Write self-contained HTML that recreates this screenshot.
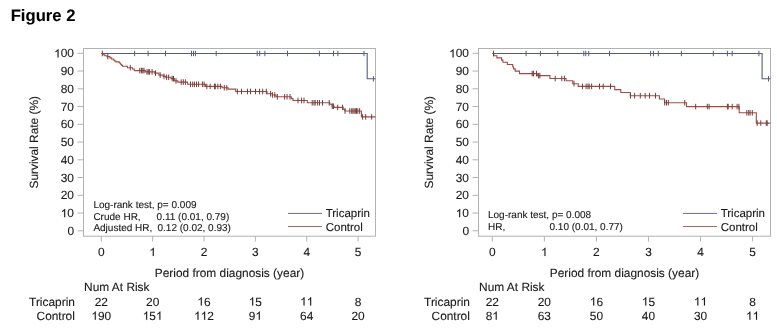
<!DOCTYPE html>
<html><head><meta charset="utf-8"><style>
html,body{margin:0;padding:0;background:#fff;width:777px;height:329px;overflow:hidden}
svg{display:block;will-change:transform;font-family:"Liberation Sans", sans-serif;fill:#1a1a1a}
text{stroke:#1a1a1a;stroke-width:0.12px;text-rendering:geometricPrecision}
.g1{fill:#1a1a1a;stroke:#1a1a1a;stroke-width:21px}
</style></head><body>
<svg width="777" height="329" viewBox="0 0 777 329">
<text x="10.7" y="21.2" font-size="16.65" font-weight="bold" fill="#000">Figure 2</text>
<rect x="83.5" y="48.5" width="292" height="187.7" fill="none" stroke="#b2b2b2" stroke-width="1"/>
<line x1="77.5" y1="230.8" x2="83.5" y2="230.8" stroke="#b2b2b2" stroke-width="1"/>
<text x="67.38" y="234.9" font-size="11.9">0</text>
<line x1="77.5" y1="213.05" x2="83.5" y2="213.05" stroke="#b2b2b2" stroke-width="1"/>
<text x="60.76" y="217.15" font-size="11.9"> 0</text><path class="g1" transform="translate(60.76,217.15) scale(0.005811,-0.005811)" d="M763 0H583V1098Q518 1038 412.5 979T223 890V1057Q375 1124 489 1221T650 1409H763Z"/>
<line x1="77.5" y1="195.3" x2="83.5" y2="195.3" stroke="#b2b2b2" stroke-width="1"/>
<text x="60.76" y="199.4" font-size="11.9">20</text>
<line x1="77.5" y1="177.55" x2="83.5" y2="177.55" stroke="#b2b2b2" stroke-width="1"/>
<text x="60.76" y="181.65" font-size="11.9">30</text>
<line x1="77.5" y1="159.8" x2="83.5" y2="159.8" stroke="#b2b2b2" stroke-width="1"/>
<text x="60.76" y="163.9" font-size="11.9">40</text>
<line x1="77.5" y1="142.05" x2="83.5" y2="142.05" stroke="#b2b2b2" stroke-width="1"/>
<text x="60.76" y="146.15" font-size="11.9">50</text>
<line x1="77.5" y1="124.3" x2="83.5" y2="124.3" stroke="#b2b2b2" stroke-width="1"/>
<text x="60.76" y="128.4" font-size="11.9">60</text>
<line x1="77.5" y1="106.55" x2="83.5" y2="106.55" stroke="#b2b2b2" stroke-width="1"/>
<text x="60.76" y="110.65" font-size="11.9">70</text>
<line x1="77.5" y1="88.8" x2="83.5" y2="88.8" stroke="#b2b2b2" stroke-width="1"/>
<text x="60.76" y="92.9" font-size="11.9">80</text>
<line x1="77.5" y1="71.05" x2="83.5" y2="71.05" stroke="#b2b2b2" stroke-width="1"/>
<text x="60.76" y="75.15" font-size="11.9">90</text>
<line x1="77.5" y1="53.3" x2="83.5" y2="53.3" stroke="#b2b2b2" stroke-width="1"/>
<text x="54.15" y="57.4" font-size="11.9"> 00</text><path class="g1" transform="translate(54.15,57.4) scale(0.005811,-0.005811)" d="M763 0H583V1098Q518 1038 412.5 979T223 890V1057Q375 1124 489 1221T650 1409H763Z"/>
<line x1="101.3" y1="236.2" x2="101.3" y2="241.5" stroke="#b2b2b2" stroke-width="1"/>
<text x="97.99" y="256" font-size="11.9">0</text>
<line x1="152.66" y1="236.2" x2="152.66" y2="241.5" stroke="#b2b2b2" stroke-width="1"/>
<text x="149.35" y="256" font-size="11.9"> </text><path class="g1" transform="translate(149.35,256) scale(0.005811,-0.005811)" d="M763 0H583V1098Q518 1038 412.5 979T223 890V1057Q375 1124 489 1221T650 1409H763Z"/>
<line x1="204.02" y1="236.2" x2="204.02" y2="241.5" stroke="#b2b2b2" stroke-width="1"/>
<text x="200.71" y="256" font-size="11.9">2</text>
<line x1="255.38" y1="236.2" x2="255.38" y2="241.5" stroke="#b2b2b2" stroke-width="1"/>
<text x="252.07" y="256" font-size="11.9">3</text>
<line x1="306.74" y1="236.2" x2="306.74" y2="241.5" stroke="#b2b2b2" stroke-width="1"/>
<text x="303.43" y="256" font-size="11.9">4</text>
<line x1="358.1" y1="236.2" x2="358.1" y2="241.5" stroke="#b2b2b2" stroke-width="1"/>
<text x="354.79" y="256" font-size="11.9">5</text>
<text x="229.5" y="277.1" text-anchor="middle" font-size="11.9">Period from diagnosis (year)</text>
<text transform="translate(37.7,142.3) rotate(-90)" x="0" y="0" text-anchor="middle" font-size="11.9">Survival Rate (%)</text>
<path d="M101.3 53.5 H367.2 V78.8 H375.5" fill="none" stroke="#575d7a" stroke-width="1.1"/>
<line x1="134.6" y1="50.8" x2="134.6" y2="56.2" stroke="#575d7a" stroke-width="1"/>
<line x1="148.1" y1="50.8" x2="148.1" y2="56.2" stroke="#575d7a" stroke-width="1"/>
<line x1="165.5" y1="50.8" x2="165.5" y2="56.2" stroke="#575d7a" stroke-width="1"/>
<line x1="191.5" y1="50.8" x2="191.5" y2="56.2" stroke="#575d7a" stroke-width="1"/>
<line x1="193.5" y1="50.8" x2="193.5" y2="56.2" stroke="#575d7a" stroke-width="1"/>
<line x1="195.4" y1="50.8" x2="195.4" y2="56.2" stroke="#575d7a" stroke-width="1"/>
<line x1="216.2" y1="50.8" x2="216.2" y2="56.2" stroke="#575d7a" stroke-width="1"/>
<line x1="257.2" y1="50.8" x2="257.2" y2="56.2" stroke="#575d7a" stroke-width="1"/>
<line x1="259.7" y1="50.8" x2="259.7" y2="56.2" stroke="#575d7a" stroke-width="1"/>
<line x1="264.9" y1="50.8" x2="264.9" y2="56.2" stroke="#575d7a" stroke-width="1"/>
<line x1="287.5" y1="50.8" x2="287.5" y2="56.2" stroke="#575d7a" stroke-width="1"/>
<line x1="319.4" y1="50.8" x2="319.4" y2="56.2" stroke="#575d7a" stroke-width="1"/>
<line x1="333.5" y1="50.8" x2="333.5" y2="56.2" stroke="#575d7a" stroke-width="1"/>
<line x1="337.9" y1="50.8" x2="337.9" y2="56.2" stroke="#575d7a" stroke-width="1"/>
<line x1="364" y1="50.8" x2="364" y2="56.2" stroke="#575d7a" stroke-width="1"/>
<line x1="373.4" y1="76.1" x2="373.4" y2="81.5" stroke="#575d7a" stroke-width="1"/>
<path d="M101.3 53.5 H103.1 V54.7 H104.8 V55.7 H107 V56.6 H109.9 V57.9 H111.5 V59 H113.3 V60 H114.6 V61 H115.9 V61.9 H119.2 V63 H120.4 V64.2 H121.5 V65.2 H122.5 V66.2 H127.4 V67.7 H132.5 V69 H134.3 V70.6 H145.3 V71.9 H154.7 V73.1 H158.9 V75.1 H163.2 V76.4 H165.7 V77.3 H171 V78.6 H174.4 V80.9 H177.8 V82.1 H187.6 V84.3 H205.5 V86.4 H222.1 V87.7 H228.1 V89.1 H235.7 V91.5 H267 V93.7 H272.4 V95 H276 V96.8 H291.3 V98.6 H293 V100.5 H307.3 V102.8 H329.8 V104.3 H332.2 V106.2 H334 V107.4 H343.2 V109.2 H345 V111 H361.4 V116.9 H375.5" fill="none" stroke="#a04c46" stroke-width="1.1"/>
<line x1="102.3" y1="50.7" x2="102.3" y2="56.3" stroke="#763e3c" stroke-width="1"/>
<line x1="107.8" y1="53.8" x2="107.8" y2="59.4" stroke="#763e3c" stroke-width="1"/>
<line x1="130.3" y1="64.9" x2="130.3" y2="70.5" stroke="#763e3c" stroke-width="1"/>
<line x1="139.8" y1="67.8" x2="139.8" y2="73.4" stroke="#763e3c" stroke-width="1"/>
<line x1="141.5" y1="67.8" x2="141.5" y2="73.4" stroke="#763e3c" stroke-width="1"/>
<line x1="142.8" y1="67.8" x2="142.8" y2="73.4" stroke="#763e3c" stroke-width="1"/>
<line x1="144" y1="67.8" x2="144" y2="73.4" stroke="#763e3c" stroke-width="1"/>
<line x1="147" y1="69.1" x2="147" y2="74.7" stroke="#763e3c" stroke-width="1"/>
<line x1="148.3" y1="69.1" x2="148.3" y2="74.7" stroke="#763e3c" stroke-width="1"/>
<line x1="149.6" y1="69.1" x2="149.6" y2="74.7" stroke="#763e3c" stroke-width="1"/>
<line x1="152.1" y1="69.1" x2="152.1" y2="74.7" stroke="#763e3c" stroke-width="1"/>
<line x1="155.5" y1="70.3" x2="155.5" y2="75.9" stroke="#763e3c" stroke-width="1"/>
<line x1="160.2" y1="72.3" x2="160.2" y2="77.9" stroke="#763e3c" stroke-width="1"/>
<line x1="164" y1="73.6" x2="164" y2="79.2" stroke="#763e3c" stroke-width="1"/>
<line x1="166.6" y1="74.5" x2="166.6" y2="80.1" stroke="#763e3c" stroke-width="1"/>
<line x1="168.7" y1="74.5" x2="168.7" y2="80.1" stroke="#763e3c" stroke-width="1"/>
<line x1="172.2" y1="75.8" x2="172.2" y2="81.4" stroke="#763e3c" stroke-width="1"/>
<line x1="173.5" y1="75.8" x2="173.5" y2="81.4" stroke="#763e3c" stroke-width="1"/>
<line x1="176" y1="78.1" x2="176" y2="83.7" stroke="#763e3c" stroke-width="1"/>
<line x1="181.2" y1="79.3" x2="181.2" y2="84.9" stroke="#763e3c" stroke-width="1"/>
<line x1="183.3" y1="79.3" x2="183.3" y2="84.9" stroke="#763e3c" stroke-width="1"/>
<line x1="185.4" y1="79.3" x2="185.4" y2="84.9" stroke="#763e3c" stroke-width="1"/>
<line x1="190.5" y1="81.5" x2="190.5" y2="87.1" stroke="#763e3c" stroke-width="1"/>
<line x1="192.7" y1="81.5" x2="192.7" y2="87.1" stroke="#763e3c" stroke-width="1"/>
<line x1="194.4" y1="81.5" x2="194.4" y2="87.1" stroke="#763e3c" stroke-width="1"/>
<line x1="196.5" y1="81.5" x2="196.5" y2="87.1" stroke="#763e3c" stroke-width="1"/>
<line x1="198.6" y1="81.5" x2="198.6" y2="87.1" stroke="#763e3c" stroke-width="1"/>
<line x1="202.4" y1="81.5" x2="202.4" y2="87.1" stroke="#763e3c" stroke-width="1"/>
<line x1="204.1" y1="81.5" x2="204.1" y2="87.1" stroke="#763e3c" stroke-width="1"/>
<line x1="206.8" y1="83.6" x2="206.8" y2="89.2" stroke="#763e3c" stroke-width="1"/>
<line x1="210.2" y1="83.6" x2="210.2" y2="89.2" stroke="#763e3c" stroke-width="1"/>
<line x1="214.5" y1="83.6" x2="214.5" y2="89.2" stroke="#763e3c" stroke-width="1"/>
<line x1="215.3" y1="83.6" x2="215.3" y2="89.2" stroke="#763e3c" stroke-width="1"/>
<line x1="217.9" y1="83.6" x2="217.9" y2="89.2" stroke="#763e3c" stroke-width="1"/>
<line x1="220.4" y1="83.6" x2="220.4" y2="89.2" stroke="#763e3c" stroke-width="1"/>
<line x1="224.3" y1="84.9" x2="224.3" y2="90.5" stroke="#763e3c" stroke-width="1"/>
<line x1="226.8" y1="84.9" x2="226.8" y2="90.5" stroke="#763e3c" stroke-width="1"/>
<line x1="237.3" y1="88.7" x2="237.3" y2="94.3" stroke="#763e3c" stroke-width="1"/>
<line x1="241.5" y1="88.7" x2="241.5" y2="94.3" stroke="#763e3c" stroke-width="1"/>
<line x1="247.5" y1="88.7" x2="247.5" y2="94.3" stroke="#763e3c" stroke-width="1"/>
<line x1="250.5" y1="88.7" x2="250.5" y2="94.3" stroke="#763e3c" stroke-width="1"/>
<line x1="255.5" y1="88.7" x2="255.5" y2="94.3" stroke="#763e3c" stroke-width="1"/>
<line x1="259.6" y1="88.7" x2="259.6" y2="94.3" stroke="#763e3c" stroke-width="1"/>
<line x1="262.7" y1="88.7" x2="262.7" y2="94.3" stroke="#763e3c" stroke-width="1"/>
<line x1="266.3" y1="88.7" x2="266.3" y2="94.3" stroke="#763e3c" stroke-width="1"/>
<line x1="270.6" y1="90.9" x2="270.6" y2="96.5" stroke="#763e3c" stroke-width="1"/>
<line x1="272.4" y1="92.2" x2="272.4" y2="97.8" stroke="#763e3c" stroke-width="1"/>
<line x1="274.8" y1="92.2" x2="274.8" y2="97.8" stroke="#763e3c" stroke-width="1"/>
<line x1="277.3" y1="94" x2="277.3" y2="99.6" stroke="#763e3c" stroke-width="1"/>
<line x1="284.6" y1="94" x2="284.6" y2="99.6" stroke="#763e3c" stroke-width="1"/>
<line x1="287" y1="94" x2="287" y2="99.6" stroke="#763e3c" stroke-width="1"/>
<line x1="290" y1="94" x2="290" y2="99.6" stroke="#763e3c" stroke-width="1"/>
<line x1="298" y1="97.7" x2="298" y2="103.3" stroke="#763e3c" stroke-width="1"/>
<line x1="301.6" y1="97.7" x2="301.6" y2="103.3" stroke="#763e3c" stroke-width="1"/>
<line x1="304" y1="97.7" x2="304" y2="103.3" stroke="#763e3c" stroke-width="1"/>
<line x1="312.2" y1="100" x2="312.2" y2="105.6" stroke="#763e3c" stroke-width="1"/>
<line x1="314" y1="100" x2="314" y2="105.6" stroke="#763e3c" stroke-width="1"/>
<line x1="315.2" y1="100" x2="315.2" y2="105.6" stroke="#763e3c" stroke-width="1"/>
<line x1="317.6" y1="100" x2="317.6" y2="105.6" stroke="#763e3c" stroke-width="1"/>
<line x1="319.5" y1="100" x2="319.5" y2="105.6" stroke="#763e3c" stroke-width="1"/>
<line x1="322.5" y1="100" x2="322.5" y2="105.6" stroke="#763e3c" stroke-width="1"/>
<line x1="329.2" y1="100" x2="329.2" y2="105.6" stroke="#763e3c" stroke-width="1"/>
<line x1="332.2" y1="103.4" x2="332.2" y2="109" stroke="#763e3c" stroke-width="1"/>
<line x1="333.4" y1="103.4" x2="333.4" y2="109" stroke="#763e3c" stroke-width="1"/>
<line x1="337.7" y1="104.6" x2="337.7" y2="110.2" stroke="#763e3c" stroke-width="1"/>
<line x1="342.6" y1="104.6" x2="342.6" y2="110.2" stroke="#763e3c" stroke-width="1"/>
<line x1="345" y1="108.2" x2="345" y2="113.8" stroke="#763e3c" stroke-width="1"/>
<line x1="349.8" y1="108.2" x2="349.8" y2="113.8" stroke="#763e3c" stroke-width="1"/>
<line x1="351.7" y1="108.2" x2="351.7" y2="113.8" stroke="#763e3c" stroke-width="1"/>
<line x1="352.9" y1="108.2" x2="352.9" y2="113.8" stroke="#763e3c" stroke-width="1"/>
<line x1="354.1" y1="108.2" x2="354.1" y2="113.8" stroke="#763e3c" stroke-width="1"/>
<line x1="355.3" y1="108.2" x2="355.3" y2="113.8" stroke="#763e3c" stroke-width="1"/>
<line x1="356.5" y1="108.2" x2="356.5" y2="113.8" stroke="#763e3c" stroke-width="1"/>
<line x1="357.8" y1="108.2" x2="357.8" y2="113.8" stroke="#763e3c" stroke-width="1"/>
<line x1="359.6" y1="108.2" x2="359.6" y2="113.8" stroke="#763e3c" stroke-width="1"/>
<line x1="362.6" y1="114.1" x2="362.6" y2="119.7" stroke="#763e3c" stroke-width="1"/>
<line x1="365.7" y1="114.1" x2="365.7" y2="119.7" stroke="#763e3c" stroke-width="1"/>
<line x1="371.7" y1="114.1" x2="371.7" y2="119.7" stroke="#763e3c" stroke-width="1"/>
<text x="93.4" y="208.3" font-size="10">Log-rank test, p= 0.009</text>
<text x="93.4" y="219.5" font-size="10">Crude HR,</text>
<text x="156.6" y="219.5" font-size="10">0.11 (0.01, 0.79)</text>
<text x="93.4" y="230.8" font-size="10">Adjusted HR,</text>
<text x="157.5" y="230.8" font-size="10">0.12 (0.02, 0.93)</text>
<line x1="288" y1="213.4" x2="322" y2="213.4" stroke="#686d88" stroke-width="1"/>
<line x1="288" y1="226.5" x2="322" y2="226.5" stroke="#a86a6a" stroke-width="1"/>
<text x="325.7" y="217.2" font-size="11.5">Tricaprin</text>
<text x="325.7" y="230.6" font-size="11.5">Control</text>
<text x="84.1" y="291.3" font-size="11.9">Num At Risk</text>
<text x="74.9" y="305.5" text-anchor="end" font-size="11.9">Tricaprin</text>
<text x="74.9" y="319.8" text-anchor="end" font-size="11.9">Control</text>
<text x="94.68" y="305.5" font-size="11.9">22</text>
<text x="91.37" y="319.8" font-size="11.9"> 90</text><path class="g1" transform="translate(91.37,319.8) scale(0.005811,-0.005811)" d="M763 0H583V1098Q518 1038 412.5 979T223 890V1057Q375 1124 489 1221T650 1409H763Z"/>
<text x="146.04" y="305.5" font-size="11.9">20</text>
<text x="142.73" y="319.8" font-size="11.9"> 5 </text><path class="g1" transform="translate(142.73,319.8) scale(0.005811,-0.005811)" d="M763 0H583V1098Q518 1038 412.5 979T223 890V1057Q375 1124 489 1221T650 1409H763Z"/><path class="g1" transform="translate(155.97,319.8) scale(0.005811,-0.005811)" d="M763 0H583V1098Q518 1038 412.5 979T223 890V1057Q375 1124 489 1221T650 1409H763Z"/>
<text x="197.4" y="305.5" font-size="11.9"> 6</text><path class="g1" transform="translate(197.4,305.5) scale(0.005811,-0.005811)" d="M763 0H583V1098Q518 1038 412.5 979T223 890V1057Q375 1124 489 1221T650 1409H763Z"/>
<text x="194.09" y="319.8" font-size="11.9">  2</text><path class="g1" transform="translate(194.09,319.8) scale(0.005811,-0.005811)" d="M763 0H583V1098Q518 1038 412.5 979T223 890V1057Q375 1124 489 1221T650 1409H763Z"/><path class="g1" transform="translate(200.71,319.8) scale(0.005811,-0.005811)" d="M763 0H583V1098Q518 1038 412.5 979T223 890V1057Q375 1124 489 1221T650 1409H763Z"/>
<text x="248.76" y="305.5" font-size="11.9"> 5</text><path class="g1" transform="translate(248.76,305.5) scale(0.005811,-0.005811)" d="M763 0H583V1098Q518 1038 412.5 979T223 890V1057Q375 1124 489 1221T650 1409H763Z"/>
<text x="248.76" y="319.8" font-size="11.9">9 </text><path class="g1" transform="translate(255.38,319.8) scale(0.005811,-0.005811)" d="M763 0H583V1098Q518 1038 412.5 979T223 890V1057Q375 1124 489 1221T650 1409H763Z"/>
<text x="300.12" y="305.5" font-size="11.9">  </text><path class="g1" transform="translate(300.12,305.5) scale(0.005811,-0.005811)" d="M763 0H583V1098Q518 1038 412.5 979T223 890V1057Q375 1124 489 1221T650 1409H763Z"/><path class="g1" transform="translate(306.74,305.5) scale(0.005811,-0.005811)" d="M763 0H583V1098Q518 1038 412.5 979T223 890V1057Q375 1124 489 1221T650 1409H763Z"/>
<text x="300.12" y="319.8" font-size="11.9">64</text>
<text x="354.79" y="305.5" font-size="11.9">8</text>
<text x="351.48" y="319.8" font-size="11.9">20</text>
<rect x="478.5" y="48.5" width="292" height="187.7" fill="none" stroke="#b2b2b2" stroke-width="1"/>
<line x1="472.5" y1="230.8" x2="478.5" y2="230.8" stroke="#b2b2b2" stroke-width="1"/>
<text x="462.38" y="234.9" font-size="11.9">0</text>
<line x1="472.5" y1="213.05" x2="478.5" y2="213.05" stroke="#b2b2b2" stroke-width="1"/>
<text x="455.76" y="217.15" font-size="11.9"> 0</text><path class="g1" transform="translate(455.76,217.15) scale(0.005811,-0.005811)" d="M763 0H583V1098Q518 1038 412.5 979T223 890V1057Q375 1124 489 1221T650 1409H763Z"/>
<line x1="472.5" y1="195.3" x2="478.5" y2="195.3" stroke="#b2b2b2" stroke-width="1"/>
<text x="455.76" y="199.4" font-size="11.9">20</text>
<line x1="472.5" y1="177.55" x2="478.5" y2="177.55" stroke="#b2b2b2" stroke-width="1"/>
<text x="455.76" y="181.65" font-size="11.9">30</text>
<line x1="472.5" y1="159.8" x2="478.5" y2="159.8" stroke="#b2b2b2" stroke-width="1"/>
<text x="455.76" y="163.9" font-size="11.9">40</text>
<line x1="472.5" y1="142.05" x2="478.5" y2="142.05" stroke="#b2b2b2" stroke-width="1"/>
<text x="455.76" y="146.15" font-size="11.9">50</text>
<line x1="472.5" y1="124.3" x2="478.5" y2="124.3" stroke="#b2b2b2" stroke-width="1"/>
<text x="455.76" y="128.4" font-size="11.9">60</text>
<line x1="472.5" y1="106.55" x2="478.5" y2="106.55" stroke="#b2b2b2" stroke-width="1"/>
<text x="455.76" y="110.65" font-size="11.9">70</text>
<line x1="472.5" y1="88.8" x2="478.5" y2="88.8" stroke="#b2b2b2" stroke-width="1"/>
<text x="455.76" y="92.9" font-size="11.9">80</text>
<line x1="472.5" y1="71.05" x2="478.5" y2="71.05" stroke="#b2b2b2" stroke-width="1"/>
<text x="455.76" y="75.15" font-size="11.9">90</text>
<line x1="472.5" y1="53.3" x2="478.5" y2="53.3" stroke="#b2b2b2" stroke-width="1"/>
<text x="449.15" y="57.4" font-size="11.9"> 00</text><path class="g1" transform="translate(449.15,57.4) scale(0.005811,-0.005811)" d="M763 0H583V1098Q518 1038 412.5 979T223 890V1057Q375 1124 489 1221T650 1409H763Z"/>
<line x1="492.3" y1="236.2" x2="492.3" y2="241.5" stroke="#b2b2b2" stroke-width="1"/>
<text x="488.99" y="256" font-size="11.9">0</text>
<line x1="544.36" y1="236.2" x2="544.36" y2="241.5" stroke="#b2b2b2" stroke-width="1"/>
<text x="541.05" y="256" font-size="11.9"> </text><path class="g1" transform="translate(541.05,256) scale(0.005811,-0.005811)" d="M763 0H583V1098Q518 1038 412.5 979T223 890V1057Q375 1124 489 1221T650 1409H763Z"/>
<line x1="596.42" y1="236.2" x2="596.42" y2="241.5" stroke="#b2b2b2" stroke-width="1"/>
<text x="593.11" y="256" font-size="11.9">2</text>
<line x1="648.48" y1="236.2" x2="648.48" y2="241.5" stroke="#b2b2b2" stroke-width="1"/>
<text x="645.17" y="256" font-size="11.9">3</text>
<line x1="700.54" y1="236.2" x2="700.54" y2="241.5" stroke="#b2b2b2" stroke-width="1"/>
<text x="697.23" y="256" font-size="11.9">4</text>
<line x1="752.6" y1="236.2" x2="752.6" y2="241.5" stroke="#b2b2b2" stroke-width="1"/>
<text x="749.29" y="256" font-size="11.9">5</text>
<text x="624.5" y="277.1" text-anchor="middle" font-size="11.9">Period from diagnosis (year)</text>
<text transform="translate(432.7,142.3) rotate(-90)" x="0" y="0" text-anchor="middle" font-size="11.9">Survival Rate (%)</text>
<path d="M492.3 53.5 H762.1 V78.8 H770.5" fill="none" stroke="#575d7a" stroke-width="1.1"/>
<line x1="526.1" y1="50.8" x2="526.1" y2="56.2" stroke="#575d7a" stroke-width="1"/>
<line x1="540.4" y1="50.8" x2="540.4" y2="56.2" stroke="#575d7a" stroke-width="1"/>
<line x1="557.8" y1="50.8" x2="557.8" y2="56.2" stroke="#575d7a" stroke-width="1"/>
<line x1="583.8" y1="50.8" x2="583.8" y2="56.2" stroke="#575d7a" stroke-width="1"/>
<line x1="585.8" y1="50.8" x2="585.8" y2="56.2" stroke="#575d7a" stroke-width="1"/>
<line x1="588.7" y1="50.8" x2="588.7" y2="56.2" stroke="#575d7a" stroke-width="1"/>
<line x1="609.5" y1="50.8" x2="609.5" y2="56.2" stroke="#575d7a" stroke-width="1"/>
<line x1="650.6" y1="50.8" x2="650.6" y2="56.2" stroke="#575d7a" stroke-width="1"/>
<line x1="653.4" y1="50.8" x2="653.4" y2="56.2" stroke="#575d7a" stroke-width="1"/>
<line x1="658.3" y1="50.8" x2="658.3" y2="56.2" stroke="#575d7a" stroke-width="1"/>
<line x1="681.4" y1="50.8" x2="681.4" y2="56.2" stroke="#575d7a" stroke-width="1"/>
<line x1="713.3" y1="50.8" x2="713.3" y2="56.2" stroke="#575d7a" stroke-width="1"/>
<line x1="727.4" y1="50.8" x2="727.4" y2="56.2" stroke="#575d7a" stroke-width="1"/>
<line x1="732.2" y1="50.8" x2="732.2" y2="56.2" stroke="#575d7a" stroke-width="1"/>
<line x1="758.9" y1="50.8" x2="758.9" y2="56.2" stroke="#575d7a" stroke-width="1"/>
<line x1="768.5" y1="76.1" x2="768.5" y2="81.5" stroke="#575d7a" stroke-width="1"/>
<path d="M492.3 53.5 H493.8 V55.7 H496.9 V57.9 H501.6 V60.1 H502.9 V62.3 H507.4 V64.5 H512.7 V66.7 H513.5 V68.9 H515.2 V71.1 H519.5 V73.6 H537.3 V75.6 H549.9 V78.5 H566.1 V80.7 H572.8 V83.7 H578.2 V86.4 H614.7 V89.6 H620.8 V92.5 H630.3 V95.7 H659.4 V99 H664.5 V102.7 H686.5 V106.6 H739.2 V112.8 H756.3 V123.1 H770.5" fill="none" stroke="#a04c46" stroke-width="1.1"/>
<line x1="493.5" y1="50.7" x2="493.5" y2="56.3" stroke="#763e3c" stroke-width="1"/>
<line x1="532.2" y1="70.8" x2="532.2" y2="76.4" stroke="#763e3c" stroke-width="1"/>
<line x1="533.5" y1="70.8" x2="533.5" y2="76.4" stroke="#763e3c" stroke-width="1"/>
<line x1="536.5" y1="70.8" x2="536.5" y2="76.4" stroke="#763e3c" stroke-width="1"/>
<line x1="538.6" y1="72.8" x2="538.6" y2="78.4" stroke="#763e3c" stroke-width="1"/>
<line x1="539.9" y1="72.8" x2="539.9" y2="78.4" stroke="#763e3c" stroke-width="1"/>
<line x1="555.2" y1="75.7" x2="555.2" y2="81.3" stroke="#763e3c" stroke-width="1"/>
<line x1="561.8" y1="75.7" x2="561.8" y2="81.3" stroke="#763e3c" stroke-width="1"/>
<line x1="564.4" y1="75.7" x2="564.4" y2="81.3" stroke="#763e3c" stroke-width="1"/>
<line x1="574" y1="80.9" x2="574" y2="86.5" stroke="#763e3c" stroke-width="1"/>
<line x1="582.5" y1="83.6" x2="582.5" y2="89.2" stroke="#763e3c" stroke-width="1"/>
<line x1="586.1" y1="83.6" x2="586.1" y2="89.2" stroke="#763e3c" stroke-width="1"/>
<line x1="588" y1="83.6" x2="588" y2="89.2" stroke="#763e3c" stroke-width="1"/>
<line x1="589.2" y1="83.6" x2="589.2" y2="89.2" stroke="#763e3c" stroke-width="1"/>
<line x1="591.6" y1="83.6" x2="591.6" y2="89.2" stroke="#763e3c" stroke-width="1"/>
<line x1="599.5" y1="83.6" x2="599.5" y2="89.2" stroke="#763e3c" stroke-width="1"/>
<line x1="603.2" y1="83.6" x2="603.2" y2="89.2" stroke="#763e3c" stroke-width="1"/>
<line x1="610.5" y1="83.6" x2="610.5" y2="89.2" stroke="#763e3c" stroke-width="1"/>
<line x1="630.5" y1="92.9" x2="630.5" y2="98.5" stroke="#763e3c" stroke-width="1"/>
<line x1="634.6" y1="92.9" x2="634.6" y2="98.5" stroke="#763e3c" stroke-width="1"/>
<line x1="640.3" y1="92.9" x2="640.3" y2="98.5" stroke="#763e3c" stroke-width="1"/>
<line x1="645.2" y1="92.9" x2="645.2" y2="98.5" stroke="#763e3c" stroke-width="1"/>
<line x1="649.5" y1="92.9" x2="649.5" y2="98.5" stroke="#763e3c" stroke-width="1"/>
<line x1="655.5" y1="92.9" x2="655.5" y2="98.5" stroke="#763e3c" stroke-width="1"/>
<line x1="664.7" y1="99.9" x2="664.7" y2="105.5" stroke="#763e3c" stroke-width="1"/>
<line x1="666.5" y1="99.9" x2="666.5" y2="105.5" stroke="#763e3c" stroke-width="1"/>
<line x1="668.3" y1="99.9" x2="668.3" y2="105.5" stroke="#763e3c" stroke-width="1"/>
<line x1="684.7" y1="99.9" x2="684.7" y2="105.5" stroke="#763e3c" stroke-width="1"/>
<line x1="695.7" y1="103.8" x2="695.7" y2="109.4" stroke="#763e3c" stroke-width="1"/>
<line x1="707.3" y1="103.8" x2="707.3" y2="109.4" stroke="#763e3c" stroke-width="1"/>
<line x1="709.1" y1="103.8" x2="709.1" y2="109.4" stroke="#763e3c" stroke-width="1"/>
<line x1="727.4" y1="103.8" x2="727.4" y2="109.4" stroke="#763e3c" stroke-width="1"/>
<line x1="728.2" y1="103.8" x2="728.2" y2="109.4" stroke="#763e3c" stroke-width="1"/>
<line x1="732.2" y1="103.8" x2="732.2" y2="109.4" stroke="#763e3c" stroke-width="1"/>
<line x1="737.1" y1="103.8" x2="737.1" y2="109.4" stroke="#763e3c" stroke-width="1"/>
<line x1="738.9" y1="103.8" x2="738.9" y2="109.4" stroke="#763e3c" stroke-width="1"/>
<line x1="746.8" y1="110" x2="746.8" y2="115.6" stroke="#763e3c" stroke-width="1"/>
<line x1="748.7" y1="110" x2="748.7" y2="115.6" stroke="#763e3c" stroke-width="1"/>
<line x1="750.1" y1="110" x2="750.1" y2="115.6" stroke="#763e3c" stroke-width="1"/>
<line x1="752.3" y1="110" x2="752.3" y2="115.6" stroke="#763e3c" stroke-width="1"/>
<line x1="757.2" y1="120.3" x2="757.2" y2="125.9" stroke="#763e3c" stroke-width="1"/>
<line x1="760.8" y1="120.3" x2="760.8" y2="125.9" stroke="#763e3c" stroke-width="1"/>
<line x1="766.3" y1="120.3" x2="766.3" y2="125.9" stroke="#763e3c" stroke-width="1"/>
<line x1="767.2" y1="120.3" x2="767.2" y2="125.9" stroke="#763e3c" stroke-width="1"/>
<text x="488" y="217.7" font-size="10">Log-rank test, p= 0.008</text>
<text x="488" y="230.1" font-size="10">HR,</text>
<text x="549.5" y="230.1" font-size="10">0.10 (0.01, 0.77)</text>
<line x1="683" y1="213.4" x2="717" y2="213.4" stroke="#686d88" stroke-width="1"/>
<line x1="683" y1="226.5" x2="717" y2="226.5" stroke="#a86a6a" stroke-width="1"/>
<text x="720.7" y="217.2" font-size="11.5">Tricaprin</text>
<text x="720.7" y="230.6" font-size="11.5">Control</text>
<text x="479.1" y="291.3" font-size="11.9">Num At Risk</text>
<text x="469.9" y="305.5" text-anchor="end" font-size="11.9">Tricaprin</text>
<text x="469.9" y="319.8" text-anchor="end" font-size="11.9">Control</text>
<text x="485.68" y="305.5" font-size="11.9">22</text>
<text x="485.68" y="319.8" font-size="11.9">8 </text><path class="g1" transform="translate(492.3,319.8) scale(0.005811,-0.005811)" d="M763 0H583V1098Q518 1038 412.5 979T223 890V1057Q375 1124 489 1221T650 1409H763Z"/>
<text x="537.74" y="305.5" font-size="11.9">20</text>
<text x="537.74" y="319.8" font-size="11.9">63</text>
<text x="589.8" y="305.5" font-size="11.9"> 6</text><path class="g1" transform="translate(589.8,305.5) scale(0.005811,-0.005811)" d="M763 0H583V1098Q518 1038 412.5 979T223 890V1057Q375 1124 489 1221T650 1409H763Z"/>
<text x="589.8" y="319.8" font-size="11.9">50</text>
<text x="641.86" y="305.5" font-size="11.9"> 5</text><path class="g1" transform="translate(641.86,305.5) scale(0.005811,-0.005811)" d="M763 0H583V1098Q518 1038 412.5 979T223 890V1057Q375 1124 489 1221T650 1409H763Z"/>
<text x="641.86" y="319.8" font-size="11.9">40</text>
<text x="693.92" y="305.5" font-size="11.9">  </text><path class="g1" transform="translate(693.92,305.5) scale(0.005811,-0.005811)" d="M763 0H583V1098Q518 1038 412.5 979T223 890V1057Q375 1124 489 1221T650 1409H763Z"/><path class="g1" transform="translate(700.54,305.5) scale(0.005811,-0.005811)" d="M763 0H583V1098Q518 1038 412.5 979T223 890V1057Q375 1124 489 1221T650 1409H763Z"/>
<text x="693.92" y="319.8" font-size="11.9">30</text>
<text x="749.29" y="305.5" font-size="11.9">8</text>
<text x="745.98" y="319.8" font-size="11.9">  </text><path class="g1" transform="translate(745.98,319.8) scale(0.005811,-0.005811)" d="M763 0H583V1098Q518 1038 412.5 979T223 890V1057Q375 1124 489 1221T650 1409H763Z"/><path class="g1" transform="translate(752.6,319.8) scale(0.005811,-0.005811)" d="M763 0H583V1098Q518 1038 412.5 979T223 890V1057Q375 1124 489 1221T650 1409H763Z"/>
</svg>
</body></html>
